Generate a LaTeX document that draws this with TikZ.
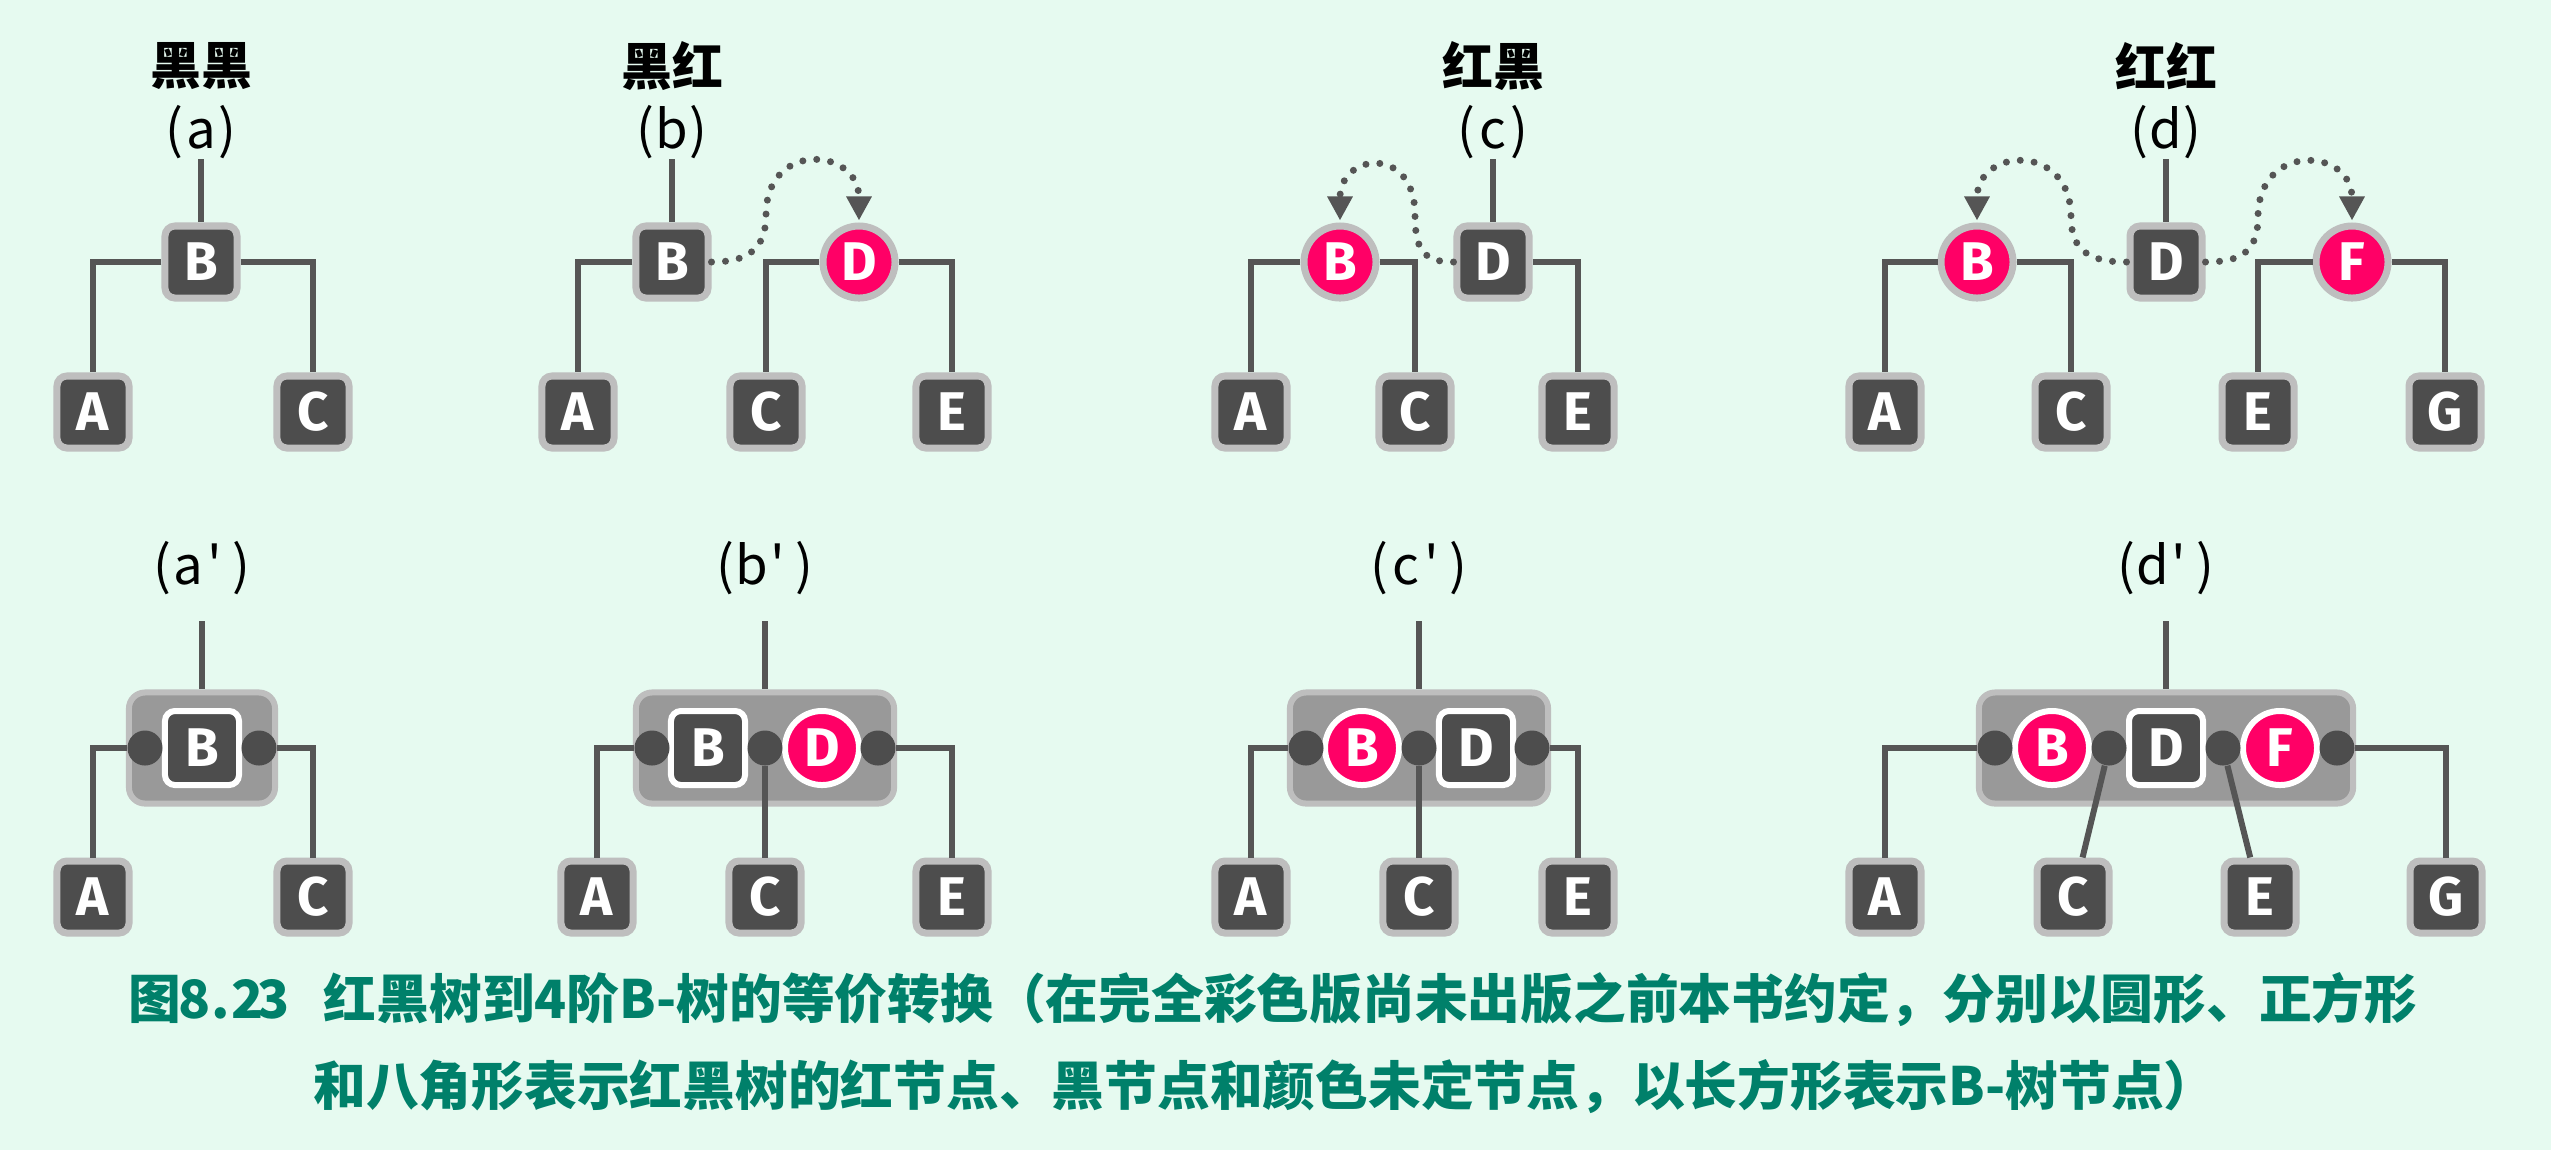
\documentclass[tikz,border=0pt]{standalone}
\usepackage{fontspec}
\usetikzlibrary{arrows.meta}
\newfontfamily\cjk{Noto Sans CJK SC}
\newfontfamily\lettfont{Fira Sans}
\newcommand\halfw[1]{\makebox[0.5em]{#1}}
\definecolor{bgcol}{RGB}{230,250,240}
\definecolor{nodecol}{RGB}{77,77,77}
\definecolor{rimcol}{RGB}{190,190,190}
\definecolor{nodered}{RGB}{255,0,102}
\definecolor{boxcol}{RGB}{153,153,153}
\definecolor{linecol}{RGB}{85,85,85}
\definecolor{capcol}{RGB}{0,128,106}
\begin{document}
\begin{tikzpicture}[x=0.01cm,y=-0.01cm]
% Estilos
\tikzset{
  blk/.style={rectangle, rounded corners=0.1cm, fill=nodecol, draw=rimcol, line width=0.07cm, minimum size=0.72cm, inner sep=0, text=white, font=\lettfont\bfseries\fontsize{15.5}{15.5}\selectfont},
  rednd/.style={blk, circle, fill=nodered},
  inblk/.style={blk, draw=white, line width=0.06cm, minimum size=0.74cm},
  inred/.style={rednd, draw=white, line width=0.06cm, minimum size=0.74cm},
  bbox/.style={rectangle, rounded corners=0.16cm, fill=boxcol, draw=rimcol, line width=0.06cm, minimum height=1.11cm},
  slot/.style={circle, fill=nodecol, minimum size=0.35cm, inner sep=0},
  edge/.style={draw=linecol, line width=0.06cm},
  flip/.style={draw=linecol, line width=0.07cm, line cap=round, dash pattern=on 0pt off 0.14cm, -{Triangle[length=0.24cm,width=0.24cm]}, shorten >=0.02cm},
  ttl/.style={font=\cjk\bfseries\fontsize{14.5}{16}\selectfont},
  lbl/.style={font=\cjk\fontsize{15}{16}\selectfont, inner sep=0},
  captxt/.style={font=\cjk\bfseries\fontsize{15}{18}\selectfont, text=capcol}
}
\useasboundingbox (0,0) rectangle (2551,1150);
\fill[bgcol] (0,0) rectangle (2551,1150);

% Arvore (a)
\node[ttl] (tit1) at (201,66) {黑黑};
\node[lbl] (lab1) at (201,132) {\halfw{(}\halfw{a}\halfw{)}};
\node[blk] (B1) at (201,262) {B};
\node[blk] (A1) at (93,412) {A};
\node[blk] (C1) at (313,412) {C};
\draw[edge] (lab1) -- (B1);
\draw[edge] (B1) -| (A1);
\draw[edge] (B1) -| (C1);

% Arvore (b)
\node[ttl] (tit2) at (672,66) {黑红};
\node[lbl] (lab2) at (672,132) {\halfw{(}\halfw{b}\halfw{)}};
\node[blk] (B2) at (672,262) {B};
\node[rednd] (D2) at (859,262) {D};
\node[blk] (A2) at (578,412) {A};
\node[blk] (C2) at (766,412) {C};
\node[blk] (E2) at (952,412) {E};
\coordinate (t2) at (766,215);
\draw[edge] (lab2) -- (B2);
\draw[edge] (B2) -| (A2);
\draw[edge] (D2) -| (C2);
\draw[edge] (D2) -| (E2);
\draw[flip] (B2.east) .. controls +(35,0) and +(0,35) .. (t2) .. controls +(0,-75) and +(0,-75) .. (D2.north);

% Arvore (c)
\node[ttl] (tit3) at (1493,66) {红黑};
\node[lbl] (lab3) at (1493,132) {\halfw{(}\halfw{c}\halfw{)}};
\node[rednd] (B3) at (1340,262) {B};
\node[blk] (D3) at (1493,262) {D};
\node[blk] (A3) at (1251,412) {A};
\node[blk] (C3) at (1415,412) {C};
\node[blk] (E3) at (1578,412) {E};
\coordinate (t3) at (1415,215);
\draw[edge] (lab3) -- (D3);
\draw[edge] (B3) -| (A3);
\draw[edge] (B3) -| (C3);
\draw[edge] (D3) -| (E3);
\draw[flip] (D3.west) .. controls +(-30,0) and +(0,35) .. (t3) .. controls +(0,-70) and +(0,-70) .. (B3.north);

% Arvore (d)
\node[ttl] (tit4) at (2166,66) {红红};
\node[lbl] (lab4) at (2166,132) {\halfw{(}\halfw{d}\halfw{)}};
\node[rednd] (B4) at (1977,262) {B};
\node[blk] (D4) at (2166,262) {D};
\node[rednd] (F4) at (2352,262) {F};
\node[blk] (A4) at (1885,412) {A};
\node[blk] (C4) at (2071,412) {C};
\node[blk] (E4) at (2258,412) {E};
\node[blk] (G4) at (2445,412) {G};
\coordinate (t4a) at (2071,217);
\coordinate (t4b) at (2258,217);
\draw[edge] (lab4) -- (D4);
\draw[edge] (B4) -| (A4);
\draw[edge] (B4) -| (C4);
\draw[edge] (F4) -| (E4);
\draw[edge] (F4) -| (G4);
\draw[flip] (D4.west) .. controls +(-35,0) and +(0,35) .. (t4a) .. controls +(0,-75) and +(0,-75) .. (B4.north);
\draw[flip] (D4.east) .. controls +(35,0) and +(0,35) .. (t4b) .. controls +(0,-75) and +(0,-75) .. (F4.north);

% No de B-arvore (a')
\node[lbl] (lab5) at (202,568) {\halfw{(}\halfw{a}\halfw{'}\halfw{)}};
\node[bbox, minimum width=1.46cm] (box5) at (202,748) {};
\node[inblk] (B5) at (202,748) {B};
\node[slot] (p5a) at (145,748) {};
\node[slot] (p5b) at (259,748) {};
\node[blk] (A5) at (93,897) {A};
\node[blk] (C5) at (313,897) {C};
\draw[edge] ([yshift=-0.26cm]lab5.south) -- (box5.north);
\draw[edge] (p5a) -| (A5);
\draw[edge] (p5b) -| (C5);

% No de B-arvore (b')
\node[lbl] (lab6) at (765,568) {\halfw{(}\halfw{b}\halfw{'}\halfw{)}};
\node[bbox, minimum width=2.58cm] (box6) at (765,748) {};
\node[inblk] (B6) at (708,748) {B};
\node[inred] (D6) at (822,748) {D};
\node[slot] (p6a) at (652,748) {};
\node[slot] (p6b) at (765,748) {};
\node[slot] (p6c) at (878,748) {};
\node[blk] (A6) at (597,897) {A};
\node[blk] (C6) at (765,897) {C};
\node[blk] (E6) at (952,897) {E};
\draw[edge] ([yshift=-0.26cm]lab6.south) -- (box6.north);
\draw[edge] (p6a) -| (A6);
\draw[edge] (p6b) -- (C6);
\draw[edge] (p6c) -| (E6);

% No de B-arvore (c')
\node[lbl] (lab7) at (1419,568) {\halfw{(}\halfw{c}\halfw{'}\halfw{)}};
\node[bbox, minimum width=2.58cm] (box7) at (1419,748) {};
\node[inred] (B7) at (1362,748) {B};
\node[inblk] (D7) at (1476,748) {D};
\node[slot] (p7a) at (1306,748) {};
\node[slot] (p7b) at (1419,748) {};
\node[slot] (p7c) at (1532,748) {};
\node[blk] (A7) at (1251,897) {A};
\node[blk] (C7) at (1419,897) {C};
\node[blk] (E7) at (1578,897) {E};
\draw[edge] ([yshift=-0.26cm]lab7.south) -- (box7.north);
\draw[edge] (p7a) -| (A7);
\draw[edge] (p7b) -- (C7);
\draw[edge] (p7c) -| (E7);

% No de B-arvore (d')
\node[lbl] (lab8) at (2166,568) {\halfw{(}\halfw{d}\halfw{'}\halfw{)}};
\node[bbox, minimum width=3.74cm] (box8) at (2166,748) {};
\node[inred] (B8) at (2052,748) {B};
\node[inblk] (D8) at (2166,748) {D};
\node[inred] (F8) at (2280,748) {F};
\node[slot] (p8a) at (1995,748) {};
\node[slot] (p8b) at (2109,748) {};
\node[slot] (p8c) at (2223,748) {};
\node[slot] (p8d) at (2337,748) {};
\node[blk] (A8) at (1885,897) {A};
\node[blk] (C8) at (2073,897) {C};
\node[blk] (E8) at (2260,897) {E};
\node[blk] (G8) at (2446,897) {G};
\draw[edge] ([yshift=-0.26cm]lab8.south) -- (box8.north);
\draw[edge] (p8a) -| (A8);
\draw[edge] (p8b) -- (C8);
\draw[edge] (p8c) -- (E8);
\draw[edge] (p8d) -| (G8);

% Legenda
\node[captxt] (cap1) at (1273,1000) {图\halfw{8}\halfw{.}\halfw{2}\halfw{3}\hspace{0.7em}红黑树到4阶B-树的等价转换（在完全彩色版尚未出版之前本书约定，分别以圆形、正方形};
\node[captxt] (cap2) at (1265,1087) {和八角形表示红黑树的红节点、黑节点和颜色未定节点，以长方形表示B-树节点）};
\end{tikzpicture}
\end{document}
